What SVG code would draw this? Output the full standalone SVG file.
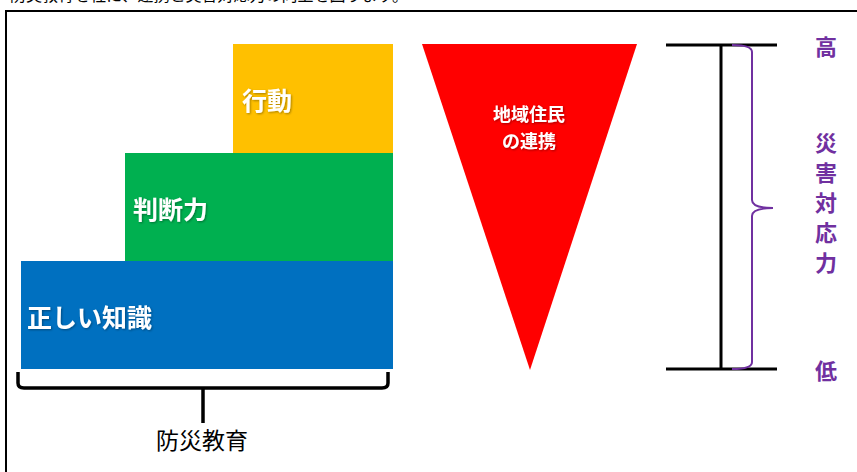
<svg xmlns="http://www.w3.org/2000/svg" width="857" height="472" viewBox="0 0 857 472">
<style>
.lbl{font-family:"Noto Sans CJK JP","Noto Sans",sans-serif;font-weight:bold;fill:#fff}
.pur{font-family:"Noto Sans CJK JP","Noto Sans",sans-serif;font-weight:bold;fill:#7030A0;font-size:22px;text-anchor:middle}
.ln{stroke:#000;stroke-width:3;fill:none}
</style>
<defs>
<filter id="sh" x="-10%" y="-10%" width="130%" height="130%"><feDropShadow dx="1" dy="1" stdDeviation="0.8" flood-color="#000" flood-opacity="0.35"/></filter>
</defs>
<rect width="857" height="472" fill="#fff"/>
<text x="10" y="1" font-family="'Noto Sans CJK JP',sans-serif" font-size="16" fill="#000">防災教育を柱に、連携と災害対応力の向上を図ります。</text>
<rect x="6" y="11" width="860" height="470" fill="none" stroke="#000" stroke-width="2"/>
<g id="action"><rect x="233" y="44" width="160" height="109" fill="#FFC000"/><text class="lbl" x="242" y="110" font-size="25" filter="url(#sh)">行動</text></g>
<g id="judgment"><rect x="125" y="153" width="268" height="108" fill="#00B050"/><text class="lbl" x="133" y="219" font-size="25" filter="url(#sh)">判断力</text></g>
<g id="knowledge"><rect x="21" y="261" width="372" height="108" fill="#0070C0"/><text class="lbl" x="27" y="327" font-size="25" filter="url(#sh)">正しい知識</text></g>
<g id="community"><polygon points="422,44 637,44 530,370" fill="#FF0000"/><text class="lbl" x="529" y="121" font-size="18" text-anchor="middle" filter="url(#sh)">地域住民</text><text class="lbl" x="529" y="148" font-size="18" text-anchor="middle" filter="url(#sh)">の連携</text></g>
<g id="scale">
<line class="ln" x1="666" y1="45" x2="777" y2="45"/>
<line class="ln" x1="666" y1="369" x2="777" y2="369"/>
<line class="ln" x1="721" y1="45" x2="721" y2="369"/>
<path d="M732,45 Q752,45 752,52 L752,200 Q752,208 773,208 Q752,208 752,216 L752,362 Q752,369 732,369" fill="none" stroke="#7030A0" stroke-width="2"/>
<text class="pur" x="826" y="55">高</text>
<text class="pur" x="826" y="379">低</text>
<text class="pur" x="826" y="151">災</text>
<text class="pur" x="826" y="181">害</text>
<text class="pur" x="826" y="211">対</text>
<text class="pur" x="826" y="241">応</text>
<text class="pur" x="826" y="271">力</text>
</g>
<g id="connectors">
<path d="M18,372 L18,383 Q18,388 24,388 L382,388 Q388,388 388,383 L388,372" fill="none" stroke="#000" stroke-width="3.5"/>
<line x1="203" y1="388" x2="203" y2="423" stroke="#000" stroke-width="3.5"/>
</g>
<g id="education"><text x="202" y="449" font-family="'Noto Sans CJK JP',sans-serif" font-size="23" text-anchor="middle" fill="#000">防災教育</text></g>
</svg>
